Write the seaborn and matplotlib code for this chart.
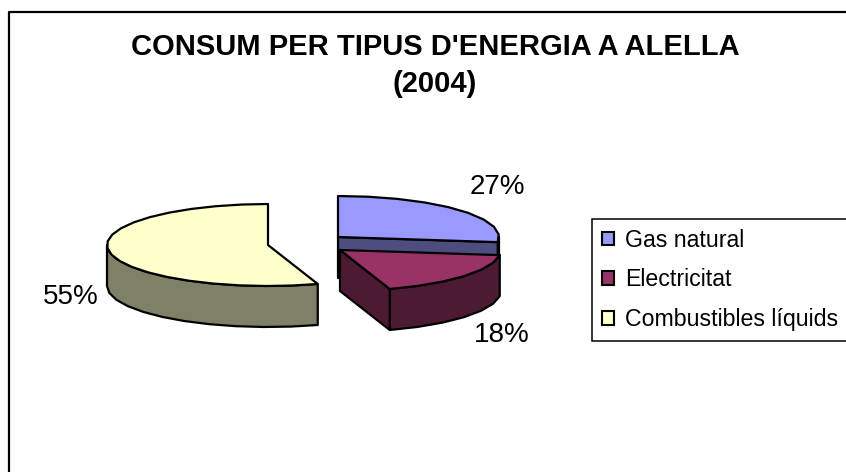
import numpy as np
import matplotlib
matplotlib.use('Agg')
import matplotlib.pyplot as plt
from matplotlib.patches import Patch
import seaborn as sns

# data
categories = ['Gas natural', 'Electricitat', 'Combustibles líquids']
shares = [27, 18, 55]
share_labels = ['27%', '18%', '55%']
top_colors = ['#9999FF', '#993366', '#FFFFCC']
side_colors = ['#4D4D80', '#4D1A33', '#808066']

# pixel layout of the exploded slices
centers = [(338, 237), (340, 250), (268, 245)]
rx, ry = 161, 41
depth = 41
label_pos = [(497, 187), (502, 335), (71, 297)]

sns.set_theme(style='white')
plt.rcParams['font.family'] = ['Liberation Sans', 'DejaVu Sans']

fig = plt.figure(figsize=(8.46, 4.72), dpi=100)
ax = fig.add_axes([0, 0, 1, 1])
ax.set_xlim(0, 846)
ax.set_ylim(472, 0)
ax.axis('off')


def rim(cx, cy, start, end):
    # coarse outline, the original is a low-res polygon too
    n = max(2, int(abs(end - start) / 9))
    a = np.radians(np.linspace(start, end, n))
    return cx + rx * np.sin(a), cy - ry * np.cos(a)


def face(x, y, color):
    ax.fill(x, y, facecolor=color, edgecolor='black', linewidth=1.6, joinstyle='round')


# outer frame, cut by the image on the right and bottom
ax.plot([9, 9, 846], [472, 12, 12], color='black', linewidth=1.6, solid_capstyle='butt')

# angles run clockwise from 12 o'clock
bounds = np.cumsum([0] + shares) * 3.6
for i in [0, 1, 2]:
    cx, cy = centers[i]
    start, end = bounds[i], bounds[i + 1]

    # outer wall, only the part in front of the ellipse centre line
    w_start, w_end = max(start, 90), min(end, 270)
    if w_end > w_start:
        wx, wy = rim(cx, cy, w_start, w_end)
        face(np.r_[wx, wx[::-1]], np.r_[wy, wy[::-1] + depth], side_colors[i])

    # cut faces that look towards the viewer
    if i in (0, 1):
        ex, ey = rim(cx, cy, end, end)
        face([cx, ex[0], ex[0], cx], [cy, ey[0], ey[0] + depth, cy + depth], side_colors[i])

    tx, ty = rim(cx, cy, start, end)
    face(np.r_[cx, tx], np.r_[cy, ty], top_colors[i])

for lab, (x, y) in zip(share_labels, label_pos):
    ax.text(x, y, lab, fontsize=20, color='black', ha='center', va='center')

ax.text(435, 47, "CONSUM PER TIPUS D'ENERGIA A ALELLA", fontsize=21, fontweight='bold',
        color='black', ha='center', va='center')
ax.text(435, 84, "(2004)", fontsize=21, fontweight='bold', color='black', ha='center', va='center')

handles = [Patch(facecolor=c, edgecolor='black', linewidth=1.5) for c in top_colors]
leg = ax.legend(handles, categories, loc='upper left', bbox_to_anchor=(592 / 846, 1 - 219 / 472),
                fontsize=16.7, frameon=True, fancybox=False, edgecolor='black', framealpha=1,
                borderpad=0.42, labelspacing=0.72, handlelength=0.52, handleheight=0.52,
                handletextpad=0.5, borderaxespad=0, labelcolor='black')
leg.get_frame().set_linewidth(1.1)

fig.savefig('out.png', dpi=100)
